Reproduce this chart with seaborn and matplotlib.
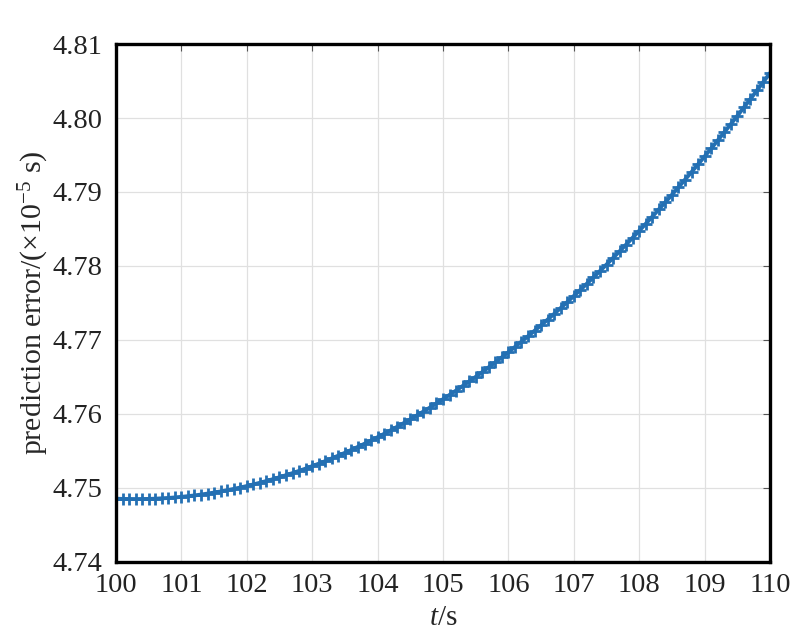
import os
import numpy as np
import pandas as pd
import matplotlib
matplotlib.use("Agg")
import matplotlib.pyplot as plt
from matplotlib import font_manager
import seaborn as sns

# time axis, one sample every 0.1 s
t = np.round(np.arange(100.0, 110.05, 0.1), 1)

# prediction error (x1e-5 s)
err = [
    4.74855, 4.74852, 4.74851, 4.74850, 4.74851, 4.74852, 4.74855, 4.74860, 4.74865, 4.74872,
    4.74880, 4.74889, 4.74899, 4.74911, 4.74924, 4.74938, 4.74953, 4.74970, 4.74987, 4.75006,
    4.75026, 4.75048, 4.75070, 4.75094, 4.75119, 4.75145, 4.75173, 4.75201, 4.75231, 4.75262,
    4.75295, 4.75328, 4.75363, 4.75400, 4.75437, 4.75475, 4.75515, 4.75556, 4.75598, 4.75642,
    4.75686, 4.75732, 4.75780, 4.75827, 4.75877, 4.75928, 4.75980, 4.76033, 4.76087, 4.76143,
    4.76200, 4.76258, 4.76317, 4.76378, 4.76440, 4.76502, 4.76566, 4.76632, 4.76698, 4.76766,
    4.76836, 4.76906, 4.76978, 4.77051, 4.77125, 4.77200, 4.77276, 4.77354, 4.77433, 4.77513,
    4.77595, 4.77677, 4.77762, 4.77846, 4.77933, 4.78020, 4.78109, 4.78199, 4.78290, 4.78383,
    4.78476, 4.78571, 4.78667, 4.78765, 4.78863, 4.78963, 4.79064, 4.79167, 4.79270, 4.79375,
    4.79481, 4.79588, 4.79697, 4.79807, 4.79917, 4.80029, 4.80143, 4.80257, 4.80373, 4.80490,
    4.80609,
]

x_ticks = list(range(100, 111))
y_ticks = [4.74, 4.75, 4.76, 4.77, 4.78, 4.79, 4.80, 4.81]

df = pd.DataFrame({"t": t, "err": err})

# register the Liberation Serif files explicitly (Times-like)
font_dir = "/usr/share/fonts/truetype/liberation"
serif_name = "Liberation Serif"
for fn in ["LiberationSerif-Regular.ttf", "LiberationSerif-Italic.ttf"]:
    p = os.path.join(font_dir, fn)
    if os.path.exists(p):
        font_manager.fontManager.addfont(p)
        if fn.endswith("Regular.ttf"):
            serif_name = font_manager.FontProperties(fname=p).get_name()

sns.set_theme(style="whitegrid")
plt.rcParams["font.family"] = [serif_name, "DejaVu Serif"]
plt.rcParams["mathtext.fontset"] = "custom"
plt.rcParams["mathtext.rm"] = serif_name
plt.rcParams["mathtext.it"] = serif_name + ":italic"

fig = plt.figure(figsize=(8.07, 6.35), dpi=100)
ax = fig.add_axes([0.1437, 0.115, 0.8105, 0.8157])

sns.lineplot(data=df, x="t", y="err", ax=ax, color="#2470b3", linewidth=2.8,
             marker="+", markersize=8, markeredgewidth=2.0, markeredgecolor="#2470b3")

ax.set_xlim(100, 110)
ax.set_ylim(4.74, 4.81)
ax.set_xticks(x_ticks)
ax.set_yticks(y_ticks)
ax.set_yticklabels([f"{v:.2f}" for v in y_ticks])
ax.set_xlabel(r"$t$/s", fontsize=21, labelpad=5)
ax.set_ylabel(r"prediction error/($\times$10$^{-5}$ s)", fontsize=21.5, labelpad=1)

ax.grid(True, color="#e0e0e0", linewidth=0.9)
ax.set_facecolor("white")
for s in ax.spines.values():
    s.set_color("black")
    s.set_linewidth(2.4)
ax.tick_params(axis="both", direction="in", length=5, width=0.8, color="#555555",
               labelsize=20.5, labelcolor="#222222", top=True, right=True)
ax.tick_params(axis="x", pad=8)
ax.tick_params(axis="y", pad=10)

fig.savefig("out.png", dpi=100)
